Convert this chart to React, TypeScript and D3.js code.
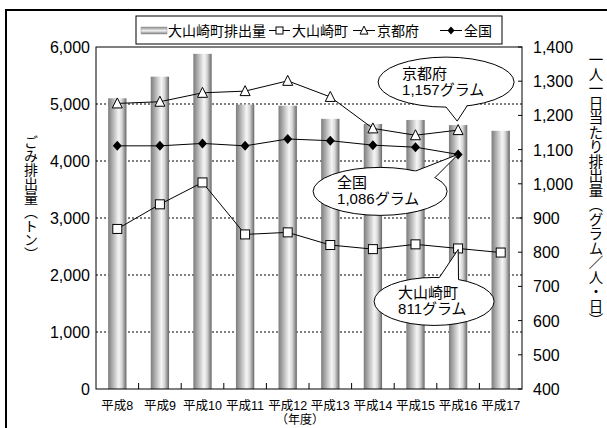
import React from 'react';
import * as d3 from 'd3';

// 年度
const years = ['平成8', '平成9', '平成10', '平成11', '平成12', '平成13', '平成14', '平成15', '平成16', '平成17'];
// 大山崎町排出量（トン）
const discharge = [5100, 5480, 5880, 4990, 4970, 4740, 4650, 4720, 4630, 4530];
// 一人一日当たり排出量（グラム）
const oyamazaki = [868, 940, 1004, 852, 858, 821, 809, 823, 811, 799];
const kyoto = [1235, 1240, 1266, 1271, 1301, 1254, 1162, 1142, 1157];
const national = [1111, 1111, 1118, 1111, 1131, 1126, 1113, 1107, 1086];

const leftTicks = [0, 1000, 2000, 3000, 4000, 5000, 6000];
const rightTicks = [400, 500, 600, 700, 800, 900, 1000, 1100, 1200, 1300, 1400];

// 吹き出し（点からの相対位置）
const callouts = [
  { series: 'kyoto', idx: 8, lines: ['京都府', '1,157グラム'], dx: -12, dy: -48, rx: 68, ry: 25, a1: 90, a2: 72, tip: -9 },
  { series: 'national', idx: 8, lines: ['全国', '1,086グラム'], dx: -78, dy: 37, rx: 67, ry: 24, a1: -58, a2: -35, tip: 0 },
  { series: 'oyamazaki', idx: 8, lines: ['大山崎町', '811グラム'], dx: -24, dy: 53, rx: 60, ry: 24, a1: -85, a2: -66, tip: 1 },
];

const W = 607;
const H = 428;
const plot = { left: 96, right: 522, top: 47, bottom: 389 };
const NUM = '"Liberation Sans", Arial, sans-serif';
const JP = '"Liberation Sans", "Noto Sans CJK JP", sans-serif';

export default function App() {
  const x = d3.scaleBand<string>().domain(years).range([plot.left, plot.right]);
  const yL = d3.scaleLinear().domain([0, 6000]).range([plot.bottom, plot.top]);
  const yR = d3.scaleLinear().domain([400, 1400]).range([plot.bottom, plot.top]);
  const cx = (i: number) => (x(years[i]) as number) + x.bandwidth() / 2;
  const barW = x.bandwidth() * 0.43;

  const line = d3.line<number>().x((_, i) => cx(i)).y(d => yR(d));
  const seriesMap: Record<string, number[]> = { oyamazaki, kyoto, national };

  const square = (px: number, py: number, s: number, key: string) => (
    <rect key={key} x={px - s / 2} y={py - s / 2} width={s} height={s} fill="#fff" stroke="#000" strokeWidth={1} />
  );
  const tri = (px: number, py: number, s: number, key: string) => (
    <path key={key} d={`M${px},${py - s * 0.55}L${px + s / 2},${py + s * 0.45}L${px - s / 2},${py + s * 0.45}Z`} fill="#fff" stroke="#000" strokeWidth={1} />
  );
  const diamond = (px: number, py: number, s: number, key: string) => (
    <path key={key} d={`M${px},${py - s / 2}L${px + s * 0.45},${py}L${px},${py + s / 2}L${px - s * 0.45},${py}Z`} fill="#000" />
  );

  return (
    <svg width={W} height={H} style={{ position: 'absolute', left: 0, top: 0, background: '#fff' }}>
      <defs>
        <linearGradient id="barGrad" x1="0" x2="1" y1="0" y2="0">
          <stop offset="0%" stopColor="#7c7c7c" />
          <stop offset="20%" stopColor="#a6a6a6" />
          <stop offset="58%" stopColor="#f6f6f6" />
          <stop offset="75%" stopColor="#d6d6d6" />
          <stop offset="100%" stopColor="#666" />
        </linearGradient>
        <linearGradient id="legGrad" x1="0" x2="0" y1="0" y2="1">
          <stop offset="0%" stopColor="#888" />
          <stop offset="55%" stopColor="#f4f4f4" />
          <stop offset="100%" stopColor="#777" />
        </linearGradient>
      </defs>

      {/* 外枠 */}
      <rect x={6} y={10} width={700} height={500} fill="none" stroke="#000" strokeWidth={2} />

      {/* グリッド */}
      {leftTicks.slice(1, -1).map(t => (
        <line key={t} x1={plot.left} x2={plot.right} y1={yL(t)} y2={yL(t)} stroke="#000" strokeWidth={1} strokeDasharray="2 2" />
      ))}

      {/* 棒 */}
      {discharge.map((v, i) => (
        <rect key={i} x={cx(i) - barW / 2} y={yL(v)} width={barW} height={yL(0) - yL(v)} fill="url(#barGrad)" />
      ))}

      {/* 枠 */}
      <rect x={plot.left} y={plot.top} width={plot.right - plot.left} height={plot.bottom - plot.top} fill="none" stroke="#000" strokeWidth={1} />

      {/* x軸目盛 */}
      {years.slice(1).map(c => (
        <line key={c} x1={x(c)} x2={x(c)} y1={plot.bottom} y2={plot.bottom - 6} stroke="#000" />
      ))}
      {years.map((c, i) => (
        <text key={c} x={cx(i)} y={410} textAnchor="middle" fontSize={12.5} fontFamily={JP}>{c}</text>
      ))}
      <text x={300} y={424} textAnchor="middle" fontSize={12} fontFamily={JP}>（年度）</text>

      {/* 左軸 */}
      {leftTicks.map(t => (
        <text key={t} x={90} y={yL(t) + 6} textAnchor="end" fontSize={16} fontFamily={NUM}>{d3.format(',')(t)}</text>
      ))}
      {/* 右軸 */}
      {rightTicks.map(t => (
        <g key={t}>
          <line x1={plot.right - 4} x2={plot.right} y1={yR(t)} y2={yR(t)} stroke="#000" />
          <text x={533} y={yR(t) + 6} fontSize={16} fontFamily={NUM}>{d3.format(',')(t)}</text>
        </g>
      ))}

      {/* 軸タイトル */}
      <text x={31} y={198} textAnchor="middle" fontSize={14} fontFamily='"Noto Sans CJK JP", sans-serif' style={{ writingMode: 'vertical-rl' }}>ごみ排出量（トン）</text>
      <text x={596} y={190} textAnchor="middle" fontSize={14.5} fontFamily='"Noto Sans CJK JP", sans-serif' style={{ writingMode: 'vertical-rl' }}>一人一日当たり排出量（グラム／人・日）</text>

      {/* 折れ線 */}
      <path d={line(kyoto) || ''} fill="none" stroke="#000" strokeWidth={1} />
      <path d={line(national) || ''} fill="none" stroke="#000" strokeWidth={1} />
      <path d={line(oyamazaki) || ''} fill="none" stroke="#000" strokeWidth={1} />
      {kyoto.map((v, i) => tri(cx(i), yR(v), 10, 'k' + i))}
      {national.map((v, i) => diamond(cx(i), yR(v), 10, 'n' + i))}
      {oyamazaki.map((v, i) => square(cx(i), yR(v), 9, 'o' + i))}

      {/* 吹き出し */}
      {callouts.map((c, k) => {
        const v = seriesMap[c.series][c.idx];
        const px = cx(c.idx);
        const py = yR(v);
        const ex = px + c.dx;
        const ey = py + c.dy;
        const pt = (a: number, s = 1) => [ex + c.rx * s * Math.cos((a * Math.PI) / 180), ey + c.ry * s * Math.sin((a * Math.PI) / 180)];
        const tip = [px + c.tip * 0.1, py + c.tip];
        const b1 = pt(c.a1);
        const b2 = pt(c.a2);
        const i1 = pt(c.a1, 0.85);
        const i2 = pt(c.a2, 0.85);
        return (
          <g key={k}>
            <ellipse cx={ex} cy={ey} rx={c.rx} ry={c.ry} fill="#fff" stroke="#000" strokeWidth={1} />
            <path d={`M${i1}L${b1}L${tip}L${b2}L${i2}Z`} fill="#fff" />
            <path d={`M${b1}L${tip}L${b2}`} fill="none" stroke="#000" strokeWidth={1} />
            {c.lines.map((t, j) => (
              <text key={j} x={ex - c.rx + 24} y={ey - 3 + j * 16} fontSize={15} fontFamily={JP}>{t}</text>
            ))}
          </g>
        );
      })}

      {/* 凡例 */}
      <g fontFamily={JP} fontSize={14}>
        <rect x={136} y={16} width={366} height={28} fill="#fff" stroke="#000" strokeWidth={1} />
        <rect x={141} y={27} width={26} height={7} fill="url(#legGrad)" stroke="#999" strokeWidth={0.5} />
        <text x={168} y={35.5}>大山崎町排出量</text>
        <line x1={269} x2={290} y1={30.5} y2={30.5} stroke="#000" />
        {square(279.5, 30.5, 7, 'ls')}
        <text x={292} y={35.5}>大山崎町</text>
        <line x1={353} x2={375} y1={30.5} y2={30.5} stroke="#000" />
        {tri(364, 30.5, 8, 'lt')}
        <text x={377} y={35.5}>京都府</text>
        <line x1={440} x2={462} y1={30.5} y2={30.5} stroke="#000" />
        {diamond(451, 30.5, 8, 'ld')}
        <text x={464} y={35.5}>全国</text>
      </g>
    </svg>
  );
}
